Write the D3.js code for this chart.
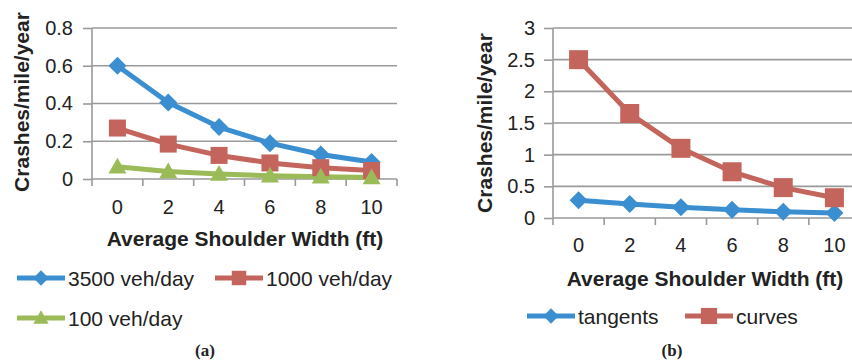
<!DOCTYPE html>
<html>
<head>
<meta charset="utf-8">
<script src="https://cdn.jsdelivr.net/npm/d3@7"></script>
<style>
  body { margin: 0; background: #fff; }
  svg { display: block; font-family: "Liberation Sans", Arial, sans-serif; }
</style>
</head>
<body>
<svg width="852" height="361"></svg>
<script>
// Shoulder widths (ft) on the x axis
const widths = [0, 2, 4, 6, 8, 10];

// Panel (a): crashes/mile/year by traffic volume
const veh3500 = [0.6, 0.405, 0.275, 0.19, 0.13, 0.09];
const veh1000 = [0.27, 0.185, 0.125, 0.085, 0.06, 0.045];
const veh100 = [0.065, 0.04, 0.027, 0.017, 0.012, 0.008];
const ticksA = [0, 0.2, 0.4, 0.6, 0.8];

// Panel (b): tangents vs curves
const tangents = [0.28, 0.22, 0.17, 0.13, 0.1, 0.08];
const curves = [2.5, 1.65, 1.1, 0.73, 0.48, 0.32];
const ticksB = [0, 0.5, 1, 1.5, 2, 2.5, 3];

const BLUE = "#3b8fd0", RED = "#c4655d", GREEN = "#9bbb59";

const svg = d3.select("svg");

function marker(g, shape, x, y, size, color) {
  const s = size / 2;
  if (shape === "diamond") {
    g.append("path").attr("d", `M${x},${y - s}L${x + s},${y}L${x},${y + s}L${x - s},${y}Z`).attr("fill", color);
  } else if (shape === "square") {
    g.append("rect").attr("x", x - s).attr("y", y - s).attr("width", size).attr("height", size).attr("fill", color);
  } else {
    g.append("path").attr("d", `M${x},${y - s}L${x + s},${y + s * 0.75}L${x - s},${y + s * 0.75}Z`).attr("fill", color);
  }
}

function drawPanel(p) {
  const g = svg.append("g");
  const x = d3.scaleBand().domain(widths).range([p.left, p.right]);
  const y = d3.scaleLinear().domain([0, p.ticks[p.ticks.length - 1]]).range([p.bottom, p.top]);

  // gridlines
  g.selectAll(".grid").data(p.ticks.slice(1)).enter().append("line")
    .attr("x1", p.left).attr("x2", p.right)
    .attr("y1", d => y(d)).attr("y2", d => y(d))
    .attr("stroke", "#9a9a9a").attr("stroke-width", 1.6);

  // y axis
  const yAxis = d3.axisLeft(y).tickValues(p.ticks).tickSize(9).tickPadding(p.tickPad).tickFormat(p.fmt);
  const ya = g.append("g").attr("transform", `translate(${p.left},0)`).call(yAxis);
  ya.select(".domain").attr("stroke", "#9a9a9a").attr("stroke-width", 1.6)
    .attr("d", `M0,${y(p.ticks[p.ticks.length - 1])}V${p.bottom}`);
  ya.selectAll(".tick line").attr("stroke", "#9a9a9a").attr("stroke-width", 1.6);
  ya.selectAll(".tick text").attr("font-size", 20).attr("fill", "#222").attr("font-family", "Liberation Sans, Arial");

  // x axis (category axis with ticks between categories)
  const xa = g.append("g");
  xa.append("line").attr("x1", p.left).attr("x2", p.right).attr("y1", p.bottom).attr("y2", p.bottom)
    .attr("stroke", "#9a9a9a").attr("stroke-width", 1.6);
  const bounds = widths.map(w => x(w)).concat([x(widths[widths.length - 1]) + x.bandwidth()]);
  xa.selectAll(".xt").data(bounds).enter().append("line")
    .attr("x1", d => d).attr("x2", d => d).attr("y1", p.bottom).attr("y2", p.bottom + 7)
    .attr("stroke", "#9a9a9a").attr("stroke-width", 1.6);
  xa.selectAll(".xl").data(widths).enter().append("text")
    .attr("x", d => x(d) + x.bandwidth() / 2).attr("y", p.xLabelY)
    .attr("text-anchor", "middle").attr("dominant-baseline", "central")
    .attr("font-size", 20).attr("fill", "#222").text(d => d);

  // axis titles
  g.append("text").attr("x", p.xTitleX).attr("y", p.xTitleY)
    .attr("text-anchor", "middle").attr("dominant-baseline", "central")
    .attr("font-size", 21).attr("font-weight", "bold").attr("fill", "#222")
    .text("Average Shoulder Width (ft)");
  g.append("text").attr("transform", `translate(${p.yTitleX},${p.yTitleY}) rotate(-90)`)
    .attr("text-anchor", "middle").attr("dominant-baseline", "central")
    .attr("font-size", 21).attr("font-weight", "bold").attr("fill", "#222")
    .text("Crashes/mile/year");

  // series
  const line = d3.line().x((d, i) => x(widths[i]) + x.bandwidth() / 2).y(d => y(d));
  p.series.forEach(s => {
    g.append("path").datum(s.values).attr("d", line)
      .attr("fill", "none").attr("stroke", s.color).attr("stroke-width", 5).attr("stroke-linejoin", "round");
  });
  p.series.forEach(s => {
    s.values.forEach((v, i) => marker(g, s.shape, x(widths[i]) + x.bandwidth() / 2, y(v), s.size, s.color));
  });

  // legend
  p.series.forEach(s => {
    const lg = g.append("g");
    lg.append("line").attr("x1", s.lx).attr("x2", s.lx + 48).attr("y1", s.ly).attr("y2", s.ly)
      .attr("stroke", s.color).attr("stroke-width", 5);
    marker(lg, s.shape, s.lx + 24, s.ly, s.size * 0.85, s.color);
    lg.append("text").attr("x", s.lx + 51).attr("y", s.ly).attr("dominant-baseline", "central")
      .attr("font-size", 21).attr("fill", "#222").text(s.name);
  });

  // panel tag
  svg.append("text").attr("x", p.tagX).attr("y", 350).attr("text-anchor", "middle")
    .attr("dominant-baseline", "central").attr("font-family", "Liberation Serif, Times New Roman, serif")
    .attr("font-weight", "bold").attr("font-size", 17).attr("fill", "#222").text(p.tag);
}

drawPanel({
  left: 92, right: 397, top: 28, bottom: 179, ticks: ticksA, tickPad: 10,
  fmt: d => d === 0 ? "0" : d3.format(".1f")(d),
  xLabelY: 207, xTitleX: 245, xTitleY: 238, yTitleX: 21, yTitleY: 102,
  tag: "(a)", tagX: 205,
  series: [
    { name: "3500 veh/day", values: veh3500, color: BLUE, shape: "diamond", size: 18, lx: 17, ly: 278 },
    { name: "1000 veh/day", values: veh1000, color: RED, shape: "square", size: 17, lx: 215, ly: 278 },
    { name: "100 veh/day", values: veh100, color: GREEN, shape: "triangle", size: 18, lx: 17, ly: 318 }
  ]
});

drawPanel({
  left: 553, right: 860, top: 28, bottom: 218, ticks: ticksB, tickPad: 9,
  fmt: d => d3.format("~g")(d),
  xLabelY: 245, xTitleX: 705, xTitleY: 278, yTitleX: 484, yTitleY: 123,
  tag: "(b)", tagX: 672,
  series: [
    { name: "tangents", values: tangents, color: BLUE, shape: "diamond", size: 18, lx: 527, ly: 316 },
    { name: "curves", values: curves, color: RED, shape: "square", size: 19, lx: 685, ly: 316 }
  ]
});
</script>
</body>
</html>
